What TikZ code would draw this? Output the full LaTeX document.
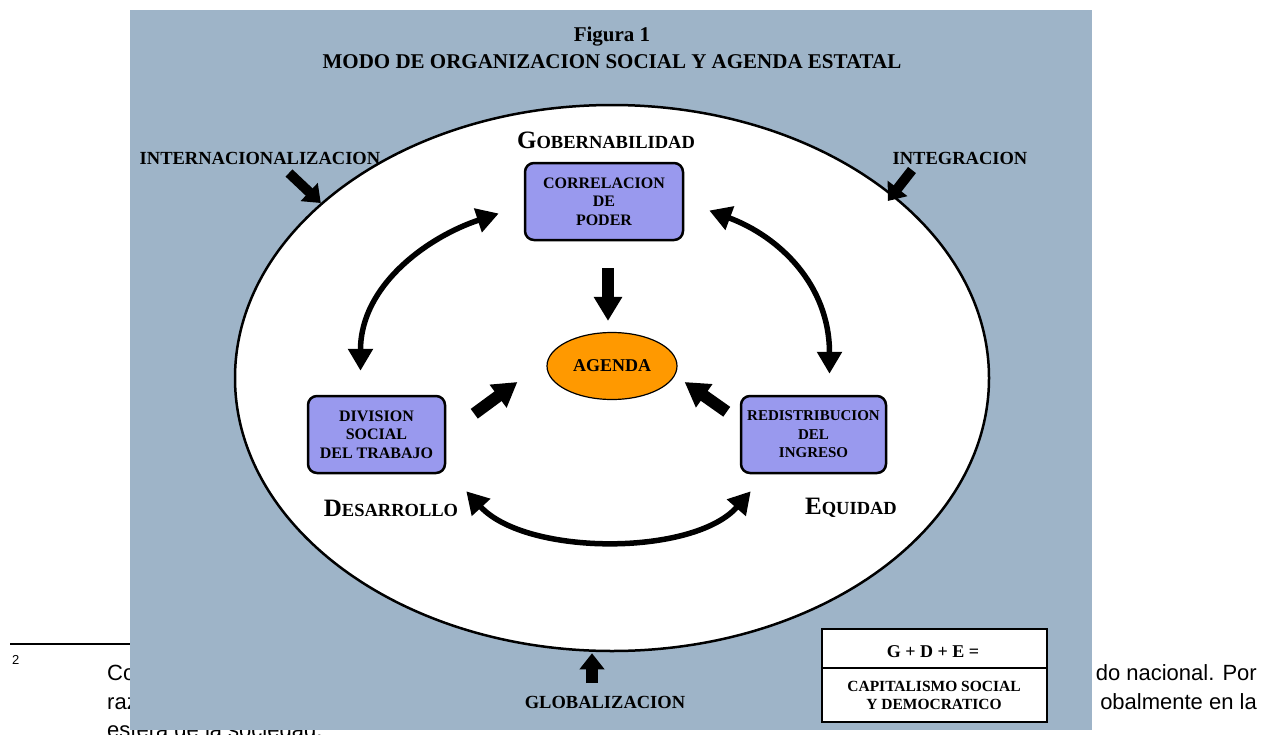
\documentclass[tikz,border=0pt]{standalone}
\usepackage{fontspec}
\setmainfont{Liberation Serif}
\newfontfamily\arialfont{Liberation Sans}
\usetikzlibrary{arrows.meta,shapes.geometric,calc}
\definecolor{bgblue}{RGB}{158,180,200}
\definecolor{boxfill}{RGB}{153,153,238}
\definecolor{agendaorange}{RGB}{255,153,0}
\tikzset{
  procbox/.style={draw, line width=2.5pt, rounded corners=9pt, fill=boxfill, minimum height=77pt, align=center, inner sep=0pt, font=\bfseries\fontsize{16}{18.5}\selectfont},
  lbl/.style={font=\bfseries\fontsize{18.5}{20}\selectfont, inner sep=1pt},
  fnote/.style={font=\arialfont\fontsize{22}{22}\selectfont, inner sep=0pt},
  blockarrow/.style={line width=12pt, -{Triangle[length=24pt,width=27pt]}},
  smallarrow/.style={line width=10pt, -{Triangle[length=16pt,width=24pt]}},
  curvearrow/.style={line width=5.5pt, {Triangle[length=22pt,width=24pt]}-{Triangle[length=22pt,width=24pt]}}
}
\begin{document}
\begin{tikzpicture}[x=1pt,y=-1pt]
\useasboundingbox (0,0) rectangle (1264,734);
% footnote text (behind the figure)
\draw[line width=1.5pt] (10,644) -- (130,644);
\node[fnote, font=\arialfont\fontsize{13}{13}\selectfont, anchor=base west] (fnnum) at (12,664) {2};
\node[fnote, anchor=base west] (fl1) at (107,680) {Co};
\node[fnote, anchor=base west] (fl2) at (107,709) {raz};
\node[fnote, anchor=base west] (fl3) at (107,737) {esfera de la sociedad.};
\node[fnote, anchor=base east] (fr1) at (1257,680) {do nacional. Por};
\node[fnote, anchor=base east] (fr2) at (1257,709) {obalmente en la};
% figure background
\fill[bgblue] (130,10) rectangle (1092,730);
\node[font=\bfseries\fontsize{21}{21}\selectfont] (fig) at (612,37) {Figura 1};
\node[font=\bfseries\fontsize{21}{21}\selectfont] (title) at (612,62) {MODO DE ORGANIZACION SOCIAL Y AGENDA ESTATAL};
% outer ellipse
\node[draw, ellipse, line width=2.5pt, fill=white, minimum width=754pt, minimum height=546pt, inner sep=0pt] (outer) at (612,378) {};
% labels
\node[lbl] (gob) at (606,140) {{\fontsize{25}{25}\selectfont G}OBERNABILIDAD};
\node[lbl] (des) at (391,508) {{\fontsize{25}{25}\selectfont D}ESARROLLO};
\node[lbl] (equ) at (851,508) {{\fontsize{25}{25}\selectfont E}QUIDAD};
\node[lbl] (intl) at (260,158) {INTERNACIONALIZACION};
\node[lbl] (integ) at (960,158) {INTEGRACION};
\node[lbl] (glob) at (605,702) {GLOBALIZACION};
% boxes
\node[procbox, minimum width=158pt] (corr) at (604,201.5) {CORRELACION\\DE\\PODER};
\node[procbox, minimum width=137pt] (div) at (376.5,434.5) {DIVISION\\SOCIAL\\DEL TRABAJO};
\node[procbox, minimum width=145pt, font=\bfseries\fontsize{15}{18.5}\selectfont] (red) at (813.5,434.5) {REDISTRIBUCION\\DEL\\INGRESO};
\node[draw, ellipse, line width=1.2pt, fill=agendaorange, minimum width=130pt, minimum height=67pt, inner sep=0pt, font=\bfseries\fontsize{18}{18}\selectfont] (agenda) at (612,366) {AGENDA};
% straight arrows
\draw[blockarrow] ([shift={(4,27)}]corr.south) -- ([shift={(-4,-11)}]agenda.north);
\draw[blockarrow] ([shift={(28,19)}]div.north east) -- ([shift={(-29,16)}]agenda.west);
\draw[blockarrow] ([shift={(-13,17)}]red.north west) -- ([shift={(7,16)}]agenda.east);
% curved double arrows
\draw[curvearrow] ([shift={(-25,12)}]corr.west) .. controls ([shift={(-95,35)}]corr.west) and ([shift={(-16,-110)}]div.north) .. ([shift={(-16,-24)}]div.north);
\draw[curvearrow] ([shift={(25,9)}]corr.east) .. controls ([shift={(95,35)}]corr.east) and ([shift={(16,-110)}]red.north) .. ([shift={(16,-21)}]red.north);
\draw[curvearrow] ([shift={(20,17)}]div.south east) .. controls ([shift={(80,82)}]div.south east) and ([shift={(-46,82)}]red.south west) .. ([shift={(11,17)}]red.south west);
% outer arrows
\draw[smallarrow] ([shift={(29,15)}]intl.center) -- (outer.149);
\draw[smallarrow] ([shift={(-48,12)}]integ.center) -- ([shift={(-6,6)}]outer.33);
\draw[blockarrow, -{Triangle[length=16pt,width=24pt]}] ([shift={(-13,-19)}]glob.center) -- ([shift={(-20,1)}]outer.south);
% result box
\node[draw, line width=2.5pt, fill=white, minimum width=225pt, minimum height=93pt, inner sep=0pt] (gde) at (934.5,675.5) {};
\draw[line width=1.5pt] ([yshift=7.5pt]gde.west) -- ([yshift=7.5pt]gde.east);
\node[font=\bfseries\fontsize{18}{18}\selectfont] (gdet) at (933,652) {G + D + E =};
\node[font=\bfseries\fontsize{15.5}{18}\selectfont, align=center] (cap) at (934,695) {CAPITALISMO SOCIAL\\Y DEMOCRATICO};
\end{tikzpicture}
\end{document}
